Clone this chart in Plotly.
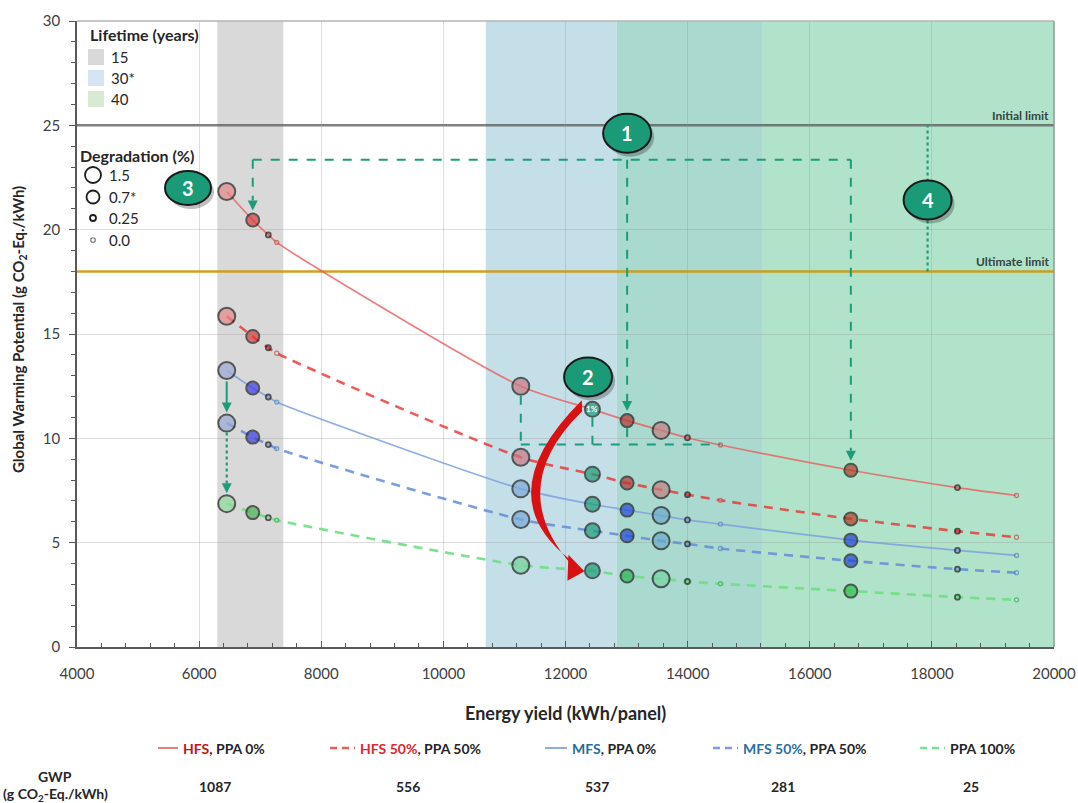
import plotly.graph_objects as go

# ---------------- data ----------------
energy_yield = [6452, 6878, 7133, 7271, 11268, 12441, 13009, 13566, 13997, 14537, 16673, 18419, 19386]
lifetime_years = [15, 15, 15, 15, 30, 30, 30, 40, 30, 30, 40, 40, 40]
degradation_pct = [1.5, 0.7, 0.25, 0.0, 1.5, 1.0, 0.7, 1.5, 0.25, 0.0, 0.7, 0.25, 0.0]

gwp_hfs = [21.83, 20.46, 19.75, 19.39, 12.50, 11.39, 10.85, 10.38, 10.03, 9.68, 8.47, 7.64, 7.26]
gwp_hfs50 = [15.85, 14.88, 14.34, 14.08, 9.09, 8.28, 7.86, 7.54, 7.30, 7.03, 6.14, 5.55, 5.26]
gwp_mfs = [13.25, 12.41, 11.98, 11.74, 7.58, 6.84, 6.56, 6.30, 6.09, 5.89, 5.12, 4.63, 4.39]
gwp_mfs50 = [10.73, 10.06, 9.70, 9.51, 6.11, 5.57, 5.33, 5.09, 4.94, 4.72, 4.13, 3.73, 3.56]
gwp_ppa100 = [6.87, 6.44, 6.20, 6.08, 3.92, 3.65, 3.40, 3.27, 3.14, 3.03, 2.68, 2.39, 2.26]

series_labels = ["HFS, PPA 0%", "HFS 50%, PPA 50%", "MFS, PPA 0%", "MFS 50%, PPA 50%", "PPA 100%"]
grid_gwp = [1087, 556, 537, 281, 25]

band_labels = ["15", "30*", "40"]
band_start = [6298, 10694, 12840]
band_end = [7379, 15231, 20000]

initial_limit = 25
ultimate_limit = 18
degradation_legend = ["1.5", "0.7*", "0.25", "0.0"]

# ---------------- geometry helpers ----------------
W, H = 1078, 803
ML, MR, MT, MB = 77, 24, 21, 156
X0, X1, Y0, Y1 = 4000, 20000, 0, 30
PW, PH = W - ML - MR, H - MT - MB


def x2px(v):
    return ML + (v - X0) / (X1 - X0) * PW


def y2py(v):
    return H - MB - (v - Y0) / (Y1 - Y0) * PH


def px2x(p):
    return X0 + (p - ML) / PW * (X1 - X0)


def py2y(p):
    return Y0 + (H - MB - p) / PH * (Y1 - Y0)


def pxp(p):
    return (p - ML) / PW


def pyp(p):
    return (H - MB - p) / PH


KY = (Y1 - Y0) / PH  # data units per pixel (y)

FONT = "Lato"
TEAL = "#1E9C7A"
DARK = "#262626"

# ---------------- styles ----------------
size_map = {1.5: 17, 1.0: 15, 0.7: 13, 0.25: 5, 0.0: 4}
sizes = [size_map[d] for d in degradation_pct]

series_style = [
    dict(y=gwp_hfs, line="rgba(232,92,92,0.8)", width=1.7, dash="solid", tiny="#C0504D",
         big=["#E58787", "#DD3A3A", None, None, "#C97882", "#1D9B78", "#BA3535", "#C38080", None, None, "#B83B27", None, None]),
    dict(y=gwp_hfs50, line="rgba(232,50,50,0.8)", width=2.6, dash="9px,7px", tiny="#C0504D",
         big=["#E58787", "#DD3A3A", None, None, "#C97882", "#1D9B78", "#BA3535", "#C38080", None, None, "#B83B27", None, None]),
    dict(y=gwp_mfs, line="rgba(125,160,222,0.85)", width=1.7, dash="solid", tiny="#4F86B8",
         big=["#9AAAD6", "#3B3BE3", None, None, "#7AA8D8", "#1D9B78", "#2347DE", "#6BAACB", None, None, "#1F45D9", None, None]),
    dict(y=gwp_mfs50, line="rgba(100,140,215,0.85)", width=2.6, dash="9px,7px", tiny="#4F86B8",
         big=["#9AAAD6", "#3B3BE3", None, None, "#7AA8D8", "#1D9B78", "#2347DE", "#6BAACB", None, None, "#1F45D9", None, None]),
    dict(y=gwp_ppa100, line="rgba(110,222,130,0.9)", width=2.6, dash="9px,7px", tiny="#3DAA55",
         big=["#90DA9C", "#47B34F", None, None, "#74D39B", "#1D9B78", "#2DB350", "#74D6A0", None, None, "#2EC048", None, None]),
]

fig = go.Figure()

for st in series_style:
    fills, outlines, lws = [], [], []
    for i, d in enumerate(degradation_pct):
        if d == 0.25:
            fills.append(st["line"])
            outlines.append("#1E1E1E")
            lws.append(1.8)
        elif d == 0.0:
            fills.append("rgba(255,255,255,0.35)")
            outlines.append(st["tiny"])
            lws.append(1.3)
        else:
            fills.append(st["big"][i])
            outlines.append("#1E1E1E")
            lws.append(2)
    fig.add_trace(go.Scatter(
        x=energy_yield, y=st["y"], mode="lines+markers",
        line=dict(color=st["line"], width=st["width"], dash=st["dash"], shape="spline", smoothing=0.7),
        marker=dict(size=sizes, color=fills, line=dict(color=outlines, width=lws)),
        showlegend=False, hoverinfo="skip"))

shapes = []
annotations = []

# lifetime bands
band_fill = ["#D9D9D9", "#C4DFE8", "#B0E3CA"]
overlap_fill = "#A9D9CF"
shapes.append(dict(type="rect", xref="x", yref="y", x0=band_start[0], x1=band_end[0], y0=Y0, y1=Y1,
                   fillcolor=band_fill[0], line_width=0, layer="below"))
shapes.append(dict(type="rect", xref="x", yref="y", x0=band_start[1], x1=band_start[2], y0=Y0, y1=Y1,
                   fillcolor=band_fill[1], line_width=0, layer="below"))
shapes.append(dict(type="rect", xref="x", yref="y", x0=band_start[2], x1=band_end[1], y0=Y0, y1=Y1,
                   fillcolor=overlap_fill, line_width=0, layer="below"))
shapes.append(dict(type="rect", xref="x", yref="y", x0=band_end[1], x1=band_end[2], y0=Y0, y1=Y1,
                   fillcolor=band_fill[2], line_width=0, layer="below"))

# limit lines
shapes.append(dict(type="line", xref="x", yref="y", x0=X0, x1=X1, y0=initial_limit, y1=initial_limit,
                   line=dict(color="rgba(80,80,80,0.75)", width=2.5), layer="below"))
shapes.append(dict(type="line", xref="x", yref="y", x0=X0, x1=X1, y0=ultimate_limit, y1=ultimate_limit,
                   line=dict(color="rgba(205,150,10,0.9)", width=2.5), layer="below"))
for txt, yv in [("Initial limit", initial_limit), ("Ultimate limit", ultimate_limit)]:
    annotations.append(dict(text=f"<b>{txt}</b>", xref="paper", yref="y", x=pxp(1051), y=yv,
                            xanchor="right", yanchor="bottom", yshift=0, showarrow=False,
                            font=dict(family=FONT, size=12, color="#33463F")))

# ---- annotation 1 connectors ----
conn_y = 23.35
i_left, i_mid, i_right = 1, 6, 10


def rad(i):
    return (sizes[i] / 2 + 1) * KY


shapes.append(dict(type="line", xref="x", yref="y", x0=energy_yield[i_left], x1=energy_yield[i_right],
                   y0=conn_y, y1=conn_y, line=dict(color=TEAL, width=2, dash="dash")))
for i in (i_left, i_mid, i_right):
    tip = gwp_hfs[i] + rad(i) + 2 * KY
    shapes.append(dict(type="line", xref="x", yref="y", x0=energy_yield[i], x1=energy_yield[i],
                       y0=conn_y, y1=tip + 10 * KY, line=dict(color=TEAL, width=2, dash="dash")))
    annotations.append(dict(x=energy_yield[i], y=tip, xref="x", yref="y", ax=0, ay=-10, text="",
                            showarrow=True, arrowhead=2, arrowsize=1, arrowwidth=2, arrowcolor=TEAL))

# ---- annotation 2 bracket ----
br_y = 9.71
shapes.append(dict(type="line", xref="x", yref="y", x0=energy_yield[4], x1=energy_yield[9],
                   y0=br_y, y1=br_y, line=dict(color=TEAL, width=2, dash="dash")))
for i in (4, 5, 6):
    shapes.append(dict(type="line", xref="x", yref="y", x0=energy_yield[i], x1=energy_yield[i],
                       y0=gwp_hfs[i] - rad(i), y1=br_y, line=dict(color=TEAL, width=2, dash="dash")))

# red curved arrow from 1% point to PPA100 point
ax_, ay_ = x2px(energy_yield[5]), y2py(gwp_hfs[5])
bx_, by_ = x2px(energy_yield[5]), y2py(gwp_ppa100[5])


def P(px, py):
    return f"{px2x(px):.2f},{py2y(py):.4f}"


arrow_path = ("M " + P(ax_ - 10.6, ay_ - 9) +
              " Q " + P(ax_ - 106, ay_ + 86) + " " + P(bx_ - 22, by_ - 11) +
              " L " + P(bx_ - 20, by_ - 5) +
              " Q " + P(ax_ - 89, ay_ + 79) + " " + P(ax_ - 10.3, ay_ + 2) + " Z")
shapes.append(dict(type="path", xref="x", yref="y", path=arrow_path, fillcolor="#D81212", line_width=0))
head_path = ("M " + P(bx_ - 8, by_ + 0.5) + " L " + P(bx_ - 24, by_ - 16) +
             " L " + P(bx_ - 25, by_ + 10) + " Z")
shapes.append(dict(type="path", xref="x", yref="y", path=head_path, fillcolor="#D81212", line_width=0))

annotations.append(dict(x=energy_yield[5], y=gwp_hfs[5], xref="x", yref="y", text="<b>1%</b>",
                        showarrow=False, font=dict(family=FONT, size=8, color="white")))

# ---- annotation 3 arrows ----
annotations.append(dict(x=energy_yield[0], y=gwp_mfs50[0] + rad(0) + 1 * KY, xref="x", yref="y",
                        ax=energy_yield[0], ay=gwp_mfs[0] - rad(0), axref="x", ayref="y", text="",
                        showarrow=True, arrowhead=2, arrowsize=1, arrowwidth=2, arrowcolor=TEAL))
tip3 = gwp_ppa100[0] + rad(0) + 1 * KY
shapes.append(dict(type="line", xref="x", yref="y", x0=energy_yield[0], x1=energy_yield[0],
                   y0=gwp_mfs50[0] - rad(0), y1=tip3 + 8 * KY, line=dict(color=TEAL, width=2.2, dash="dot")))
annotations.append(dict(x=energy_yield[0], y=tip3, xref="x", yref="y", ax=0, ay=-10, text="",
                        showarrow=True, arrowhead=2, arrowsize=1, arrowwidth=2, arrowcolor=TEAL))

# ---- annotation 4 dotted line ----
x4 = 17930
shapes.append(dict(type="line", xref="x", yref="y", x0=x4, x1=x4, y0=ultimate_limit, y1=initial_limit,
                   line=dict(color=TEAL, width=2.2, dash="dot")))

# ---- numbered badges ----
badges = [("1", energy_yield[6], 24.62, 48, 39),
          ("2", 12370, 12.94, 48, 39),
          ("3", 5818, 22.0, 46, 34),
          ("4", x4, 21.42, 48, 39)]
for lbl, bxv, byv, bw, bh in badges:
    shapes.append(dict(type="circle", xref="x", yref="y", xsizemode="pixel", ysizemode="pixel",
                       xanchor=bxv, yanchor=byv, x0=-bw / 2 + 3, x1=bw / 2 + 3, y0=-bh / 2 - 4, y1=bh / 2 - 4,
                       fillcolor="rgba(0,0,0,0.25)", line_width=0))
    shapes.append(dict(type="circle", xref="x", yref="y", xsizemode="pixel", ysizemode="pixel",
                       xanchor=bxv, yanchor=byv, x0=-bw / 2, x1=bw / 2, y0=-bh / 2, y1=bh / 2,
                       fillcolor="#1A9A77", line=dict(color="#1A1A1A", width=2)))
    annotations.append(dict(x=bxv, y=byv, xref="x", yref="y", text=f"<b>{lbl}</b>", showarrow=False,
                            font=dict(family=FONT, size=20, color="white")))

# plot border (top / right lighter than axes)
shapes.append(dict(type="line", xref="paper", yref="paper", x0=0, x1=1, y0=1, y1=1,
                   line=dict(color="#B4B4B4", width=1.5)))
shapes.append(dict(type="line", xref="paper", yref="paper", x0=1, x1=1, y0=0, y1=1,
                   line=dict(color="#8C9C94", width=1.5)))

# ---------------- top-left legends ----------------
annotations.append(dict(text="<b>Lifetime (years)</b>", xref="paper", yref="paper", x=pxp(88), y=pyp(35),
                        xanchor="left", yanchor="middle", showarrow=False,
                        font=dict(family=FONT, size=16, color=DARK)))
sw_cols = ["#D9D9D9", "#D5E5F3", "#D8EBD2"]
for k, (lab, yy) in enumerate(zip(band_labels, [57, 78, 99])):
    shapes.append(dict(type="rect", xref="paper", yref="paper", x0=pxp(88), x1=pxp(104),
                       y0=pyp(yy + 8), y1=pyp(yy - 8), fillcolor=sw_cols[k], line_width=0))
    annotations.append(dict(text=lab, xref="paper", yref="paper", x=pxp(109), y=pyp(yy),
                            xanchor="left", yanchor="middle", showarrow=False,
                            font=dict(family=FONT, size=15, color=DARK)))

annotations.append(dict(text="<b>Degradation (%)</b>", xref="paper", yref="paper", x=pxp(78), y=pyp(155),
                        xanchor="left", yanchor="middle", showarrow=False,
                        font=dict(family=FONT, size=16, color=DARK)))
leg_sz = [16, 13, 6, 4.5]
for k, (lab, yy) in enumerate(zip(degradation_legend, [175, 197, 218, 240])):
    s = leg_sz[k]
    shapes.append(dict(type="circle", xref="paper", yref="paper", xsizemode="pixel", ysizemode="pixel",
                       xanchor=pxp(93), yanchor=pyp(yy), x0=-s / 2, x1=s / 2, y0=-s / 2, y1=s / 2,
                       fillcolor="white", line=dict(color="#1E1E1E" if k < 3 else "#777777",
                                                    width=1.8 if k < 3 else 1.2)))
    annotations.append(dict(text=lab, xref="paper", yref="paper", x=pxp(107), y=pyp(yy),
                            xanchor="left", yanchor="middle", showarrow=False,
                            font=dict(family=FONT, size=15, color=DARK)))

# ---------------- axis titles ----------------
annotations.append(dict(text="<b>Energy yield (kWh/panel)</b>", xref="paper", yref="paper",
                        x=pxp(565), y=pyp(713), showarrow=False, xanchor="center", yanchor="middle",
                        font=dict(family=FONT, size=18, color=DARK)))
annotations.append(dict(text="<b>Global Warming Potential (g CO<sub>2</sub>-Eq./kWh)</b>", xref="paper",
                        yref="paper", x=pxp(19), y=pyp(330), showarrow=False, textangle=-90,
                        xanchor="center", yanchor="middle", font=dict(family=FONT, size=15, color=DARK)))

# ---------------- bottom legend ----------------
leg_y = 748
sample_x = [(158, 178), (330, 355), (545, 567), (713, 738), (920, 945)]
leg_html = [
    "<span style='color:#C0141B'>HFS</span>, PPA 0%",
    "<span style='color:#E3262A'>HFS 50%</span>, PPA 50%",
    "<span style='color:#1F6F9E'>MFS</span>, PPA 0%",
    "<span style='color:#2A6F9E'>MFS 50%</span>, PPA 50%",
    "PPA 100%",
]
for k, st in enumerate(series_style):
    sx0, sx1 = sample_x[k]
    shapes.append(dict(type="line", xref="paper", yref="paper", x0=pxp(sx0), x1=pxp(sx1),
                       y0=pyp(leg_y), y1=pyp(leg_y),
                       line=dict(color=st["line"], width=2 if st["dash"] == "solid" else 2.6,
                                 dash="solid" if st["dash"] == "solid" else "7px,5px")))
    annotations.append(dict(text=f"<b>{leg_html[k]}</b>", xref="paper", yref="paper", x=pxp(sx1 + 3),
                            y=pyp(leg_y), xanchor="left", yanchor="middle", showarrow=False,
                            font=dict(family=FONT, size=14, color=DARK)))

annotations.append(dict(text="<b>GWP</b>", xref="paper", yref="paper", x=pxp(55), y=pyp(776),
                        showarrow=False, xanchor="center", yanchor="middle",
                        font=dict(family=FONT, size=14, color=DARK)))
annotations.append(dict(text="<b>(g CO<sub>2</sub>-Eq./kWh)</b>", xref="paper", yref="paper", x=pxp(55),
                        y=pyp(794), showarrow=False, xanchor="center", yanchor="middle",
                        font=dict(family=FONT, size=14, color=DARK)))
gwp_x = [215, 408, 597, 783, 971]
for k, v in enumerate(grid_gwp):
    annotations.append(dict(text=f"<b>{v}</b>", xref="paper", yref="paper", x=pxp(gwp_x[k]), y=pyp(786),
                            showarrow=False, xanchor="center", yanchor="middle",
                            font=dict(family=FONT, size=14, color=DARK)))

fig.update_layout(
    width=W, height=H, template="none",
    margin=dict(l=ML, r=MR, t=MT, b=MB, pad=0),
    paper_bgcolor="white", plot_bgcolor="white",
    font=dict(family=FONT, size=15, color="#404040"),
    showlegend=False, shapes=shapes, annotations=annotations,
    xaxis=dict(range=[X0, X1], dtick=2000, tick0=0, tickformat="d", showgrid=True,
               gridcolor="rgba(150,150,150,0.32)", gridwidth=1, zeroline=False,
               showline=True, linecolor="#5A5A5A", linewidth=1.5, mirror=False,
               ticks="inside", ticklen=6, tickcolor="#595959", tickwidth=1.2,
               minor=dict(dtick=400, ticks="inside", ticklen=4, tickcolor="#595959", showgrid=False),
               tickfont=dict(family=FONT, size=15, color="#404040"), automargin=False,
               ticklabelstandoff=12),
    yaxis=dict(range=[Y0, Y1], dtick=5, showgrid=True, gridcolor="rgba(150,150,150,0.32)", gridwidth=1,
               zeroline=False, showline=True, linecolor="#5A5A5A", linewidth=1.5, mirror=False,
               ticks="outside", ticklen=6, tickcolor="#595959", tickwidth=1.2,
               minor=dict(dtick=1, ticks="outside", ticklen=4, tickcolor="#595959", showgrid=False),
               tickfont=dict(family=FONT, size=15, color="#404040"), automargin=False,
               ticklabelstandoff=6),
)

fig.write_html("out.html", config={"displayModeBar": False},
               post_script="document.body.style.margin='0';document.body.style.overflow='hidden';")
